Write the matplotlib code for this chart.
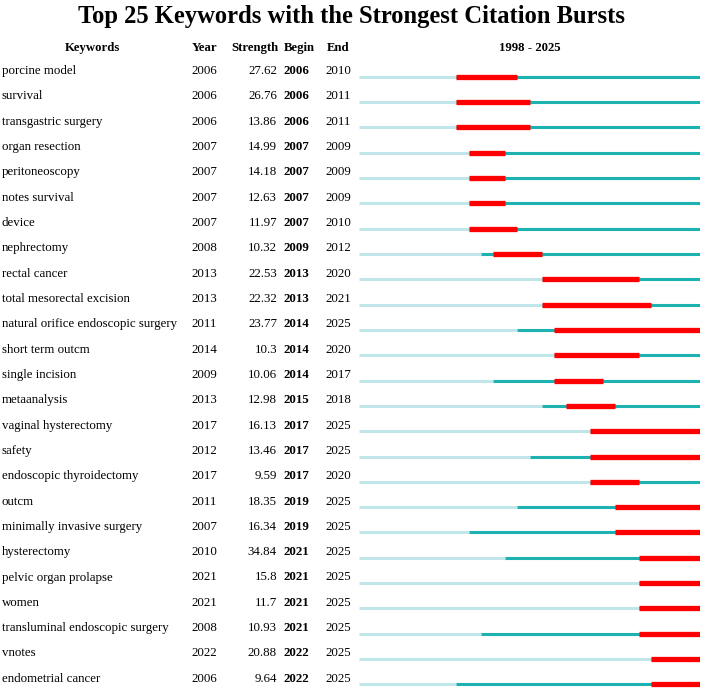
import matplotlib
matplotlib.use("Agg")
import matplotlib.pyplot as plt

keywords = [
    "porcine model", "survival", "transgastric surgery", "organ resection",
    "peritoneoscopy", "notes survival", "device", "nephrectomy",
    "rectal cancer", "total mesorectal excision",
    "natural orifice endoscopic surgery", "short term outcm",
    "single incision", "metaanalysis", "vaginal hysterectomy", "safety",
    "endoscopic thyroidectomy", "outcm", "minimally invasive surgery",
    "hysterectomy", "pelvic organ prolapse", "women",
    "transluminal endoscopic surgery", "vnotes", "endometrial cancer",
]
years = [2006, 2006, 2006, 2007, 2007, 2007, 2007, 2008, 2013, 2013, 2011,
         2014, 2009, 2013, 2017, 2012, 2017, 2011, 2007, 2010, 2021, 2021,
         2008, 2022, 2006]
strengths = ["27.62", "26.76", "13.86", "14.99", "14.18", "12.63", "11.97",
             "10.32", "22.53", "22.32", "23.77", "10.3", "10.06", "12.98",
             "16.13", "13.46", "9.59", "18.35", "16.34", "34.84", "15.8",
             "11.7", "10.93", "20.88", "9.64"]
begins = [2006, 2006, 2006, 2007, 2007, 2007, 2007, 2009, 2013, 2013, 2014,
          2014, 2014, 2015, 2017, 2017, 2017, 2019, 2019, 2021, 2021, 2021,
          2021, 2022, 2022]
ends = [2010, 2011, 2011, 2009, 2009, 2009, 2010, 2012, 2020, 2021, 2025,
        2020, 2017, 2018, 2025, 2025, 2020, 2025, 2025, 2025, 2025, 2025,
        2025, 2025, 2025]
first_year, last_year = 1998, 2025

LIGHT = "#c0e6e9"
TEAL = "#1cb2b2"
RED = "#ff0000"
FONT = "Liberation Serif"

W, H = 702, 688
row0, step = 76.7, 25.32          # pixel y of first row line, row spacing
ytop = -row0 / step
ybot = (H - row0) / step

fig = plt.figure(figsize=(W / 100, H / 100), dpi=100)

# table text, x in pixels, y in row units
ax_tab = fig.add_axes([0, 0, 1, 1])
ax_tab.set_xlim(0, W)
ax_tab.set_ylim(ybot, ytop)
ax_tab.axis("off")

# burst bars, x in years
bx0, bx1 = 359, 700
ax_bar = fig.add_axes([bx0 / W, 0, (bx1 - bx0) / W, 1])
ax_bar.set_xlim(first_year, last_year + 1)
ax_bar.set_ylim(ybot, ytop)
ax_bar.axis("off")


def px(y):
    return (y - row0) / step


ax_tab.text(W / 2, px(23.5), "Top 25 Keywords with the Strongest Citation Bursts",
            ha="center", va="baseline", fontsize=17.7, fontweight="bold",
            family=FONT)

hy = px(51)
hdr = dict(va="baseline", fontsize=9.2, fontweight="bold", family=FONT)
ax_tab.text(92, hy, "Keywords", ha="center", **hdr)
ax_tab.text(191.5, hy, "Year", ha="left", **hdr)
ax_tab.text(278, hy, "Strength", ha="right", **hdr)
ax_tab.text(284, hy, "Begin", ha="left", **hdr)
ax_tab.text(326.5, hy, "End", ha="left", **hdr)
ax_tab.text((bx0 + bx1) / 2, hy, f"{first_year} - {last_year}", ha="center",
            **hdr)

cell = dict(va="baseline", fontsize=9.3, family=FONT)
for i, kw in enumerate(keywords):
    y = i - 2.6 / step
    ax_tab.text(2, y, kw, ha="left", **cell)
    ax_tab.text(191.5, y, str(years[i]), ha="left", **cell)
    ax_tab.text(277, y, strengths[i], ha="right", **cell)
    ax_tab.text(283.5, y, str(begins[i]), ha="left", fontweight="bold", **cell)
    ax_tab.text(325, y, str(ends[i]), ha="left", **cell)

    ax_bar.plot([first_year, years[i]], [i, i], color=LIGHT, lw=2.2,
                solid_capstyle="butt")
    ax_bar.plot([years[i], last_year + 1], [i, i], color=TEAL, lw=2.2,
                solid_capstyle="butt")
    ax_bar.plot([begins[i], ends[i] + 1], [i, i], color=RED, lw=3.8,
                solid_capstyle="butt")

fig.savefig("out.png", dpi=100, facecolor="white")
